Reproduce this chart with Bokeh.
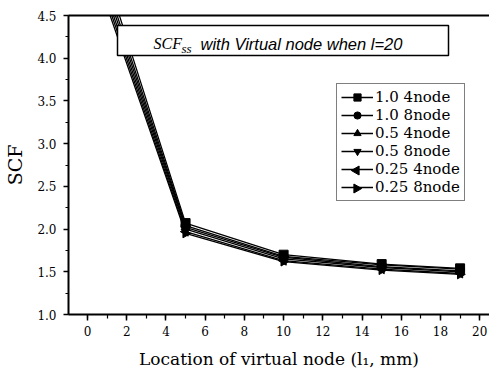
import math
from bokeh.plotting import figure
from bokeh.models import (FixedTicker, NumeralTickFormatter, LinearAxis, Range1d,
                          BoxAnnotation, Label, Legend, LegendItem)
from bokeh.embed import file_html
from bokeh.resources import INLINE

# ---- data ----
location = [1, 5, 10, 15, 19]
scf_10_4node = [4.95, 2.07, 1.70, 1.59, 1.54]
scf_10_8node = [4.86, 2.04, 1.68, 1.58, 1.53]
scf_05_4node = [4.79, 2.02, 1.67, 1.56, 1.51]
scf_05_8node = [4.72, 2.00, 1.65, 1.55, 1.50]
scf_025_4node = [4.66, 1.97, 1.63, 1.53, 1.48]
scf_025_8node = [4.60, 1.95, 1.62, 1.52, 1.47]
series_names = ["1.0 4node", "1.0 8node", "0.5 4node", "0.5 8node", "0.25 4node", "0.25 8node"]
x_ticks = [0, 2, 4, 6, 8, 10, 12, 14, 16, 18, 20]
y_ticks = [1.0, 1.5, 2.0, 2.5, 3.0, 3.5, 4.0, 4.5]

series = [scf_10_4node, scf_10_8node, scf_05_4node, scf_05_8node, scf_025_4node, scf_025_8node]
markers = [("square", 0), ("circle", 0), ("triangle", 0), ("inverted_triangle", 0),
           ("triangle", math.pi / 2), ("triangle", -math.pi / 2)]

SERIF = "DejaVu Serif"

# ---- layout constants (pixels) ----
W, H = 489, 372
B_LEFT, B_RIGHT, B_TOP, B_BOTTOM = 68, 0, 15, 58
X0, X1, Y0, Y1 = -0.97, 20.5, 1.0, 4.5
FRAME_W = W - B_LEFT - B_RIGHT
FRAME_H = H - B_TOP - B_BOTTOM


def px_to_data(sx, sy):
    """page pixel -> data coordinate (for decorations only)"""
    x = X0 + (sx - B_LEFT) / FRAME_W * (X1 - X0)
    y = Y1 - (sy - B_TOP) / FRAME_H * (Y1 - Y0)
    return x, y


p = figure(width=W, height=H, output_backend="svg", toolbar_location=None,
           x_range=Range1d(X0, X1), y_range=Range1d(Y0, Y1),
           min_border_left=B_LEFT, min_border_right=B_RIGHT,
           min_border_top=B_TOP, min_border_bottom=B_BOTTOM)
p.outline_line_color = None
p.grid.grid_line_color = None
p.background_fill_color = "white"
p.border_fill_color = "white"

for ax in (p.xaxis[0], p.yaxis[0]):
    ax.axis_line_width = 2
    ax.axis_line_color = "black"
    ax.major_tick_line_width = 1.5
    ax.minor_tick_line_width = 1.2
    ax.major_tick_in = 0
    ax.minor_tick_in = 0
    ax.major_label_text_font = SERIF
    ax.major_label_text_font_size = "12px"
    ax.major_label_text_color = "black"
    ax.axis_label_text_font = SERIF
    ax.axis_label_text_font_style = "normal"
    ax.axis_label_text_color = "black"

p.xaxis.ticker = FixedTicker(ticks=x_ticks, minor_ticks=list(range(-1, 21)))
p.xaxis.major_tick_out = 6
p.xaxis.minor_tick_out = 4
p.xaxis.major_label_standoff = 5
p.xaxis.axis_label = "Location of virtual node (l\u2081, mm)"
p.xaxis.axis_label_text_font_size = "17px"
p.xaxis.axis_label_standoff = 10

p.yaxis.ticker = FixedTicker(ticks=y_ticks, minor_ticks=[1.0 + 0.25 * i for i in range(15)])
p.yaxis.formatter = NumeralTickFormatter(format="0.0")
p.yaxis.major_tick_out = 5
p.yaxis.minor_tick_out = 3
p.yaxis.major_label_standoff = 7
p.yaxis.axis_label = "SCF"
p.yaxis.axis_label_text_font_size = "19px"
p.yaxis.axis_label_standoff = 8

# top frame line (axis without ticks or labels)
top = LinearAxis(ticker=FixedTicker(ticks=[]), major_tick_out=0, major_tick_in=0,
                 minor_tick_out=0, minor_tick_in=0, major_label_standoff=0,
                 axis_line_width=2, axis_line_color="black")
p.add_layout(top, "above")

# ---- legend geometry ----
LEG_LEFT, LEG_BOTTOM = 336, 201      # page pixels
LEG_PAD, ROW_H, GLYPH_W = 4, 18, 32
leg_top = LEG_BOTTOM - (2 * LEG_PAD + ROW_H * len(series_names))

items = []
for i, (name, vals, (mk, ang)) in enumerate(zip(series_names, series, markers)):
    r1 = p.line(location, vals, line_color="black", line_width=1.3)
    r2 = p.scatter(location, vals, marker=mk, angle=ang, size=9,
                   fill_color="black", line_color="black")
    if ang == 0:
        items.append(LegendItem(label=name, renderers=[r1, r2]))
    else:
        # legend glyphs ignore marker angle: draw the rotated marker at the legend row
        items.append(LegendItem(label=name, renderers=[r1]))
        lx, ly = px_to_data(LEG_LEFT + LEG_PAD + GLYPH_W / 2,
                            leg_top + LEG_PAD + ROW_H * i + ROW_H / 2)
        p.scatter([lx], [ly], marker=mk, angle=ang, size=9, fill_color="black",
                  line_color="black")

legend = Legend(items=items, location=(LEG_LEFT - B_LEFT, H - B_BOTTOM - LEG_BOTTOM))
legend.border_line_color = "black"
legend.border_line_width = 1.5
legend.background_fill_alpha = 0
legend.label_text_font = SERIF
legend.label_text_font_size = "15px"
legend.label_text_color = "black"
legend.glyph_width = GLYPH_W
legend.glyph_height = ROW_H
legend.label_height = ROW_H
legend.label_standoff = 2
legend.spacing = 0
legend.padding = LEG_PAD
legend.margin = 0
p.add_layout(legend, "center")

# ---- title box ----
bx0, by0 = px_to_data(117, 55)
bx1, by1 = px_to_data(448, 25)
box = BoxAnnotation(left=bx0, right=bx1, bottom=by0, top=by1,
                    fill_color="white", fill_alpha=1.0,
                    line_color="black", line_alpha=1.0, line_width=1.5)
p.add_layout(box)
tx, ty = px_to_data(153, 43)
sx_, sy_ = px_to_data(181, 48)
wx, wy = px_to_data(200, 43)
p.add_layout(Label(x=tx, y=ty, text="SCF", text_font="Liberation Serif",
                   text_font_style="italic", text_font_size="16px",
                   text_baseline="alphabetic", text_color="black"))
p.add_layout(Label(x=sx_, y=sy_, text="ss", text_font="Liberation Serif",
                   text_font_style="italic", text_font_size="13px",
                   text_baseline="alphabetic", text_color="black"))
p.add_layout(Label(x=wx, y=wy, text="with Virtual node when l=20",
                   text_font="Liberation Sans", text_font_style="italic",
                   text_font_size="16.5px", text_baseline="alphabetic", text_color="black"))

open("out.html", "w").write(file_html(p, INLINE))
